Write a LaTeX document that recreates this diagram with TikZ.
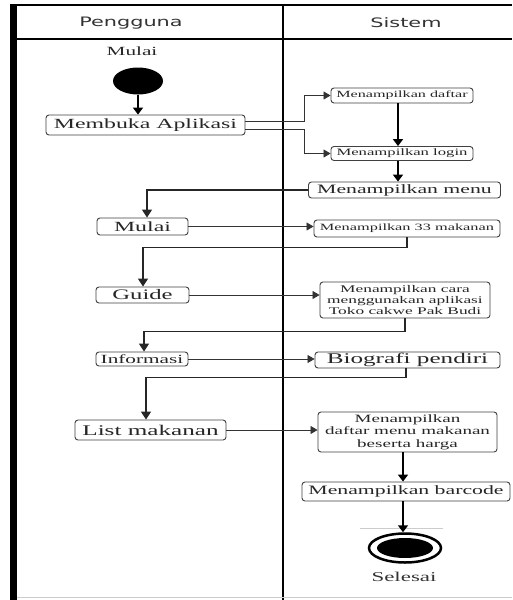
\documentclass[tikz,border=0pt]{standalone}
\usepackage{fontspec}
\usetikzlibrary{shapes.geometric,arrows.meta}
\newfontfamily\bxf[FakeStretch=1.7]{Liberation Serif}
\newfontfamily\hdf[FakeStretch=1.6]{DejaVu Sans}
\newcommand{\fs}[2]{\fontsize{#1}{#2}\selectfont}
\tikzset{
  box/.style={draw=black!75, line width=0.9pt, rounded corners=3pt, inner sep=0pt,
              align=center, text=black!85},
  thinarr/.style={draw=black!80, line width=0.8pt, -{Triangle[width=8pt,length=7pt]}},
  thickarr/.style={draw=black, line width=1.8pt, -{Triangle[width=10pt,length=7pt]}},
  elbowarr/.style={draw=black!85, line width=1.4pt, -{Triangle[width=10pt,length=8pt]}},
}
\begin{document}
\begin{tikzpicture}[x=1pt,y=-1pt]
\useasboundingbox (0,0) rectangle (512,600);
\fill[white] (0,0) rectangle (512,600);
% frame
\fill[black] (10,5) rectangle (17,600);
\draw[line width=2pt] (10,5) -- (512,5);
\draw[line width=2.5pt] (10,39) -- (512,39);
\draw[line width=1.8pt] (283,5) -- (283,600);
\draw[gray!40, line width=0.6pt] (17,597) -- (512,597);
\node[font={\hdf\fs{13}{15}}, text=black!80] (hp) at (131,23) {Pengguna};
\node[font={\hdf\fs{13}{15}}, text=black!80] (hs) at (406,23) {Sistem};
% start
\node[font={\bxf\fs{12.5}{14}}, text=black!85] (mulaiT) at (132,51) {Mulai};
\node[ellipse, fill=black, minimum width=50pt, minimum height=27pt, inner sep=0pt] (start) at (138,81) {};
% boxes
\node[box, minimum width=199pt, minimum height=20pt, font={\bxf\fs{14}{15}}] (mem) at (145.5,125) {Membuka Aplikasi};
\node[box, minimum width=142pt, minimum height=15pt, font={\bxf\fs{9.5}{11}}] (daftar) at (402,95.5) {Menampilkan daftar};
\node[box, minimum width=142pt, minimum height=14pt, font={\bxf\fs{9.8}{11}}] (login) at (402,153.5) {Menampilkan login};
\node[box, minimum width=192pt, minimum height=16pt, font={\bxf\fs{12.8}{14}}] (menu) at (404.5,190) {Menampilkan menu};
\node[box, minimum width=91pt, minimum height=17pt, font={\bxf\fs{14}{15}}] (mulai2) at (142.5,226.5) {Mulai};
\node[box, minimum width=186pt, minimum height=17pt, font={\bxf\fs{9.6}{11}}] (makan) at (407,228.5) {Menampilkan 33 makanan};
\node[box, minimum width=93pt, minimum height=16pt, font={\bxf\fs{14.5}{15}}] (guide) at (142.5,295) {Guide};
\node[box, minimum width=170pt, minimum height=36pt, font={\bxf\fs{10.2}{11}}] (cara) at (405,300) {Menampilkan cara\\menggunakan aplikasi\\Toko cakwe Pak Budi};
\node[box, minimum width=92pt, minimum height=14pt, font={\bxf\fs{12.5}{13}}] (info) at (142,359) {Informasi};
\node[box, minimum width=185pt, minimum height=16pt, font={\bxf\fs{14.8}{15}}] (bio) at (407.5,360) {Biografi pendiri};
\node[box, minimum width=151pt, minimum height=20pt, font={\bxf\fs{14.8}{15}}] (list) at (150.5,430) {List makanan};
\node[box, minimum width=179pt, minimum height=40pt, font={\bxf\fs{11.2}{12.5}}] (dm) at (407.5,432) {Menampilkan\\daftar menu makanan\\beserta harga};
\node[box, minimum width=208pt, minimum height=19pt, font={\bxf\fs{12.8}{14}}] (bc) at (406,491.5) {Menampilkan barcode};
% end
\node[ellipse, draw=black, line width=2.5pt, minimum width=72pt, minimum height=29pt, inner sep=0pt] (end) at (405,548) {};
\node[ellipse, fill=black, minimum width=56pt, minimum height=20pt, inner sep=0pt] (endin) at (end.center) {};
\node[font={\bxf\fs{13.5}{15}}, text=black!80] (selesai) at (404,577) {Selesai};
\draw[gray!40, line width=0.6pt] (360,528) -- (443,528);
% connectors
\draw[thickarr] (start.south) -- (start.south |- mem.north);
\draw[thinarr] ([yshift=4pt]mem.east) -- ++(59,0) |- (daftar.west);
\draw[thinarr] ([yshift=-4pt]mem.east) -- ++(59,0) |- (login.west);
\draw[thickarr] ([xshift=-4pt]daftar.south) -- ([xshift=-4pt]login.north);
\draw[thickarr] ([xshift=-4pt]login.south) -- ([xshift=-4pt]login.south |- menu.north);
\draw[elbowarr] (menu.west) -| ([xshift=4.5pt]mulai2.north);
\draw[thinarr] (mulai2.east) -- (mulai2.east -| makan.west);
\draw[elbowarr] (makan.south) -- ++(0,10) -| ([xshift=0.5pt]guide.north);
\draw[thinarr] (guide.east) -- (guide.east -| cara.west);
\draw[elbowarr] (cara.south) -- ++(0,13) -| ([xshift=2pt]info.north);
\draw[thinarr] (info.east) -- (info.east -| bio.west);
\draw[elbowarr] ([xshift=-1.5pt]bio.south) -- ++(0,9) -| ([xshift=-4.5pt]list.north);
\draw[thinarr] (list.east) -- (list.east -| dm.west);
\draw[thickarr] ([xshift=-4.5pt]dm.south) -- ([xshift=-4.5pt]dm.south |- bc.north);
\draw[thickarr] ([xshift=-3pt]bc.south) -- ([xshift=-3pt]bc.south |- end.north);
\end{tikzpicture}
\end{document}
